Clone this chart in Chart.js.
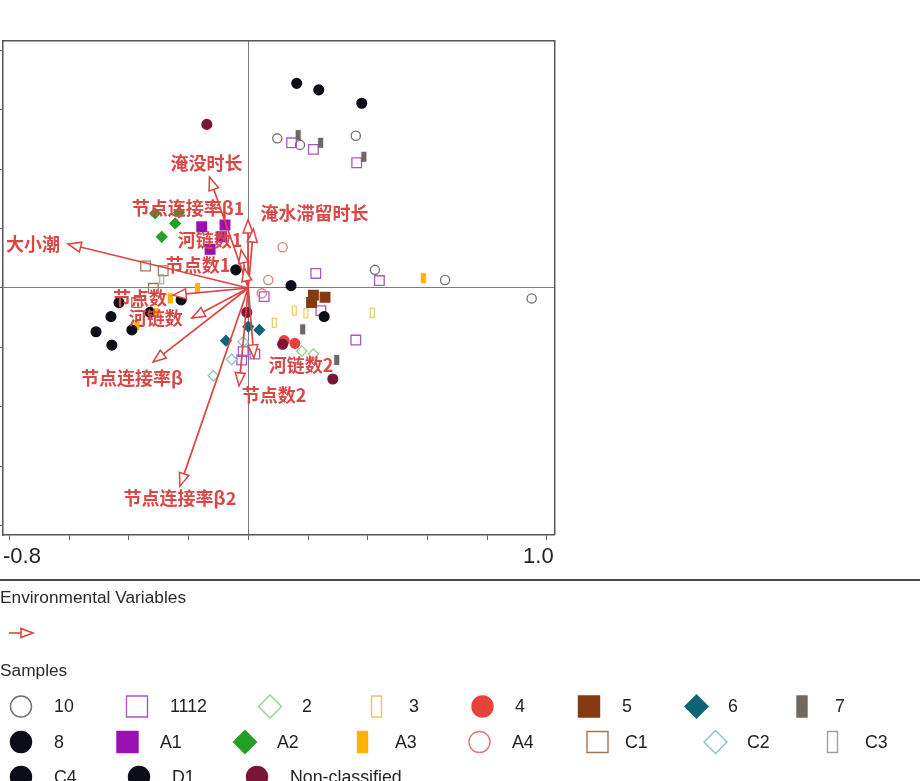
<!DOCTYPE html>
<html>
<head>
<meta charset="utf-8">
<script src="https://cdn.jsdelivr.net/npm/chart.js@4.4.1/dist/chart.umd.min.js"></script>
<style>
  html, body { margin: 0; padding: 0; background: #fff; overflow: hidden; }
  #wrap { width: 920px; height: 781px; position: relative; }
</style>
</head>
<body>
<div id="wrap"><canvas id="c" width="920" height="781"></canvas></div>
<script>
// ---- axis ticks ----
const xTickValues = [-0.8, -0.6, -0.4, -0.2, 0, 0.2, 0.4, 0.6, 0.8, 1.0];
const yTickValues = [-0.8, -0.6, -0.4, -0.2, 0, 0.2, 0.4, 0.6, 0.8];
const xEndLabels = ['-0.8', '1.0'];

// ---- environmental variables (biplot arrows: axis 1, axis 2 scores) ----
const envNames = ['大小潮', '淹没时长', '节点连接率β1', '淹水滞留时长', '河链数1', '节点数1',
                  '节点数', '河链数', '节点连接率β', '节点连接率β2', '节点数2', '河链数2'];
const envAxis1 = [-0.604, -0.130, -0.001, 0.017, -0.024, -0.014, -0.252, -0.189, -0.319, -0.229, -0.031, 0.019];
const envAxis2 = [0.148, 0.373, 0.229, 0.198, 0.128, 0.067, -0.024, -0.101, -0.249, -0.666, -0.329, -0.235];

// ---- samples, one array per class: [axis1, axis2] ----
const s10   = [[0.097, 0.503], [0.173, 0.481], [0.360, 0.512], [0.424, 0.061], [0.659, 0.027], [0.949, -0.035]];
const s1112 = [[0.145, 0.488], [0.218, 0.466], [0.363, 0.421], [0.226, 0.049], [0.439, 0.025], [0.243, -0.076],
               [0.360, -0.175], [0.053, -0.029], [-0.017, -0.214], [0.022, -0.222], [-0.022, -0.242]];
const s2    = [[0.179, -0.212], [0.218, -0.222]];
const s3    = [[0.154, -0.076], [0.193, -0.085], [0.087, -0.117], [0.415, -0.083]];
const s4    = [[0.120, -0.177], [0.156, -0.186]];
const s5    = [[0.218, -0.024], [0.257, -0.031], [0.212, -0.049]];
const s6    = [[0.000, -0.130], [0.037, -0.141], [-0.075, -0.177]];
const s7    = [[0.167, 0.514], [0.242, 0.488], [0.387, 0.441], [0.182, -0.139], [0.296, -0.242]];
const s8    = [[0.162, 0.688], [0.236, 0.666], [0.380, 0.621], [-0.042, 0.061], [0.143, 0.008], [0.254, -0.096],
               [-0.225, -0.040], [-0.329, -0.082], [-0.433, -0.049]];
const sA1   = [[-0.156, 0.206], [-0.078, 0.212], [-0.089, 0.172], [-0.128, 0.130]];
const sA2   = [[-0.312, 0.251], [-0.232, 0.254], [-0.245, 0.217], [-0.290, 0.172]];
const sA3   = [[-0.170, 0.000], [-0.261, -0.035], [-0.309, -0.084], [-0.373, -0.124], [0.586, 0.033]];
const sA4   = [[0.115, 0.137], [0.067, 0.027], [0.045, -0.018]];
const sC1   = [[-0.344, 0.074], [-0.285, 0.058], [-0.318, -0.001], [-0.374, -0.049]];
const sC2   = [[-0.017, -0.181], [-0.056, -0.240], [-0.117, -0.295]];
const sC3   = [[-0.290, 0.029]];
const sC4   = [[-0.510, -0.147], [-0.457, -0.192]];
const sD1   = [[-0.460, -0.096], [-0.390, -0.141]];
const sNC   = [[-0.139, 0.550], [-0.005, -0.082], [0.115, -0.189], [0.283, -0.306]];

const classNames = ['10', '1112', '2', '3', '4', '5', '6', '7', '8', 'A1', 'A2', 'A3', 'A4', 'C1', 'C2', 'C3', 'C4', 'D1', 'Non-classified'];
const classData  = [s10, s1112, s2, s3, s4, s5, s6, s7, s8, sA1, sA2, sA3, sA4, sC1, sC2, sC3, sC4, sD1, sNC];

// ---- styling ----
const ARROW_RED = '#dc4442';
const LABEL_RED = '#d94846';
// shape, fill, stroke
const classStyle = {
  '10':   ['circle',  null,      '#6e6e6e'],
  '1112': ['square',  null,      '#a957c4'],
  '2':    ['diamond', null,      '#92cf92'],
  '3':    ['narrow',  null,      '#e6c65a'],
  '4':    ['circle',  '#e8423c', '#e8423c'],
  '5':    ['square',  '#873a12', '#873a12'],
  '6':    ['diamond', '#0c6576', '#0c6576'],
  '7':    ['narrow',  '#716960', '#716960'],
  '8':    ['circle',  '#0b0e16', '#0b0e16'],
  'A1':   ['square',  '#9a10b2', '#9a10b2'],
  'A2':   ['diamond', '#23a023', '#23a023'],
  'A3':   ['narrow',  '#ffb300', '#ffb300'],
  'A4':   ['circle',  null,      '#e07a7a'],
  'C1':   ['square',  null,      '#a07656'],
  'C2':   ['diamond', null,      '#8cc0c6'],
  'C3':   ['narrow',  null,      '#9e9e9e'],
  'C4':   ['circle',  '#0b0e16', '#0b0e16'],
  'D1':   ['circle',  '#0b0e16', '#0b0e16'],
  'Non-classified': ['circle', '#7b1535', '#7b1535']
};
// label offsets from each arrow tip, in pixels
const envLabelOffset = [[-35, 0], [-3, -14], [-60, -12], [61, -16], [-31, -10], [-46, -3],
                        [-33, 3], [-36, 0], [-21, 16], [0, 12], [35, 9], [47, 7]];

// plot frame on the page
const FRAME = { left: 3, right: 554.7, top: 40.7, bottom: 535 };

// legend layout
const legendRows = [
  ['10', '1112', '2', '3', '4', '5', '6', '7'],
  ['8', 'A1', 'A2', 'A3', 'A4', 'C1', 'C2', 'C3'],
  ['C4', 'D1', 'Non-classified']
];
const legendRowY = [706.5, 742, 777];
const legendSymX = [
  [21, 137, 270, 376.5, 482.5, 589, 696.5, 802],
  [21, 127.5, 245, 362.5, 479.5, 597.5, 715.5, 832.5],
  [21, 139, 257]
];
const legendTextX = [
  [54, 170, 302, 409, 515, 622, 728, 835],
  [54, 160, 277, 395, 512, 625, 747, 865],
  [54, 172, 290]
];

function narrowImg(fill, stroke, w, h) {
  const c = document.createElement('canvas');
  c.width = w + 2; c.height = h + 2;
  const g = c.getContext('2d');
  if (fill) { g.fillStyle = fill; g.fillRect(1, 1, w, h); }
  g.strokeStyle = stroke; g.lineWidth = 1.2;
  g.strokeRect(1.5, 1.5, w - 1, h - 1);
  return c;
}

function datasetFor(name, pts, idx) {
  const [shape, fill, stroke] = classStyle[name];
  const ds = {
    label: name,
    data: pts.map(p => ({ x: p[0], y: p[1] })),
    backgroundColor: fill || 'rgba(0,0,0,0)',
    borderColor: stroke,
    borderWidth: 1.3,
    showLine: false,
    order: 100 - idx
  };
  if (shape === 'circle') { ds.pointStyle = 'circle'; ds.pointRadius = fill ? 4.9 : 4.6; }
  else if (shape === 'square') { ds.pointStyle = 'rect'; ds.pointRadius = 6.8; }
  else if (shape === 'diamond') { ds.pointStyle = 'rectRot'; ds.pointRadius = 5.2; }
  else { ds.pointStyle = narrowImg(fill, stroke, 5, 10); ds.pointRadius = 4; }
  return ds;
}

const datasets = [];
envNames.forEach((n, i) => {
  datasets.push({
    label: n,
    data: [{ x: 0, y: 0 }, { x: envAxis1[i], y: envAxis2[i] }],
    showLine: true,
    borderColor: ARROW_RED,
    borderWidth: 1.7,
    pointRadius: 0,
    order: 0
  });
});
classNames.forEach((n, i) => datasets.push(datasetFor(n, classData[i], i)));

// draws a legend symbol
function drawSym(ctx, shape, fill, stroke, x, y, s) {
  ctx.save();
  ctx.lineWidth = 1.4;
  ctx.strokeStyle = stroke;
  ctx.fillStyle = fill || '#fff';
  ctx.beginPath();
  if (shape === 'circle') ctx.arc(x, y, s / 2, 0, Math.PI * 2);
  else if (shape === 'square') ctx.rect(x - s / 2, y - s / 2, s, s);
  else if (shape === 'diamond') {
    const r = s / 2 + 1;
    ctx.moveTo(x, y - r); ctx.lineTo(x + r, y); ctx.lineTo(x, y + r); ctx.lineTo(x - r, y); ctx.closePath();
  } else ctx.rect(x - 5, y - s / 2, 10, s);
  if (fill) ctx.fill();
  ctx.stroke();
  ctx.restore();
}

function drawHead(ctx, x0, y0, x1, y1, L, W) {
  const a = Math.atan2(y1 - y0, x1 - x0);
  const bx = x1 - L * Math.cos(a), by = y1 - L * Math.sin(a);
  const px = -Math.sin(a) * W, py = Math.cos(a) * W;
  ctx.beginPath();
  ctx.moveTo(x1, y1);
  ctx.lineTo(bx + px, by + py);
  ctx.lineTo(bx - px, by - py);
  ctx.closePath();
  ctx.fillStyle = '#fff';
  ctx.fill();
  ctx.stroke();
}

const biplotDecor = {
  id: 'biplotDecor',
  afterDatasetsDraw(chart) {
    const { ctx, chartArea: ca, scales: { x, y } } = chart;
    // top and right edges of the frame
    ctx.save();
    ctx.strokeStyle = '#555';
    ctx.lineWidth = 1.5;
    ctx.beginPath();
    ctx.moveTo(ca.left, ca.top); ctx.lineTo(ca.right, ca.top); ctx.lineTo(ca.right, ca.bottom);
    ctx.stroke();
    // arrow heads and variable names
    const x0 = x.getPixelForValue(0), y0 = y.getPixelForValue(0);
    ctx.strokeStyle = ARROW_RED;
    ctx.lineWidth = 1.5;
    ctx.lineJoin = 'miter';
    envNames.forEach((n, i) => {
      const x1 = x.getPixelForValue(envAxis1[i]), y1 = y.getPixelForValue(envAxis2[i]);
      drawHead(ctx, x0, y0, x1, y1, 13, 5);
    });
    ctx.font = 'bold 18px "Noto Sans CJK SC", sans-serif';
    ctx.fillStyle = LABEL_RED;
    ctx.textAlign = 'center';
    ctx.textBaseline = 'middle';
    envNames.forEach((n, i) => {
      const x1 = x.getPixelForValue(envAxis1[i]), y1 = y.getPixelForValue(envAxis2[i]);
      ctx.fillText(n, x1 + envLabelOffset[i][0], y1 + envLabelOffset[i][1]);
    });
    // end labels of the first axis
    ctx.font = '22px "Liberation Sans", Arial, sans-serif';
    ctx.fillStyle = '#222';
    ctx.textAlign = 'left';
    ctx.fillText(xEndLabels[0], ca.left, ca.bottom + 22);
    ctx.textAlign = 'right';
    ctx.fillText(xEndLabels[1], ca.right - 1, ca.bottom + 22);
    ctx.restore();
  },
  afterDraw(chart) {
    const ctx = chart.ctx;
    ctx.save();
    ctx.strokeStyle = '#4a4a4a';
    ctx.lineWidth = 2;
    ctx.beginPath(); ctx.moveTo(0, 580); ctx.lineTo(920, 580); ctx.stroke();
    ctx.fillStyle = '#2a2a2a';
    ctx.font = '17.3px "Liberation Sans", Arial, sans-serif';
    ctx.textAlign = 'left';
    ctx.textBaseline = 'middle';
    ctx.fillText('Environmental Variables', 0, 598.5);
    ctx.fillText('Samples', 0, 671.5);
    // arrow key
    ctx.strokeStyle = ARROW_RED;
    ctx.lineWidth = 1.6;
    ctx.beginPath(); ctx.moveTo(9, 633); ctx.lineTo(22, 633); ctx.stroke();
    drawHead(ctx, 9, 633, 33, 633, 12, 4.5);
    // sample classes
    ctx.font = '17.8px "Liberation Sans", Arial, sans-serif';
    legendRows.forEach((row, r) => {
      row.forEach((name, k) => {
        const [shape, fill, stroke] = classStyle[name];
        drawSym(ctx, shape, fill, stroke, legendSymX[r][k], legendRowY[r], 21);
        ctx.fillStyle = '#222';
        ctx.fillText(name, legendTextX[r][k], legendRowY[r] + 1);
      });
    });
    ctx.restore();
  }
};

const gridColor = c => (c.tick && Math.abs(c.tick.value) < 1e-9) ? '#7c7c7c' : 'rgba(0,0,0,0)';

const chart = new Chart(document.getElementById('c'), {
  type: 'scatter',
  data: { datasets },
  options: {
    responsive: false,
    devicePixelRatio: 1,
    animation: false,
    events: [],
    layout: {
      autoPadding: false,
      padding: { left: 0, top: FRAME.top, right: 920 - FRAME.right, bottom: 781 - FRAME.bottom - 40 }
    },
    plugins: { legend: { display: false }, tooltip: { enabled: false }, title: { display: false } },
    scales: {
      x: {
        type: 'linear',
        min: -0.8215, max: 1.0261,
        afterBuildTicks: s => { s.ticks = xTickValues.map(v => ({ value: v })); },
        afterFit: s => { s.height = 40; },
        ticks: { display: false },
        grid: { drawOnChartArea: true, color: gridColor, tickColor: '#666', tickLength: 5, lineWidth: 1 },
        border: { display: true, color: '#555', width: 1.5 }
      },
      y: {
        type: 'linear',
        min: -0.8303, max: 0.8313,
        afterBuildTicks: s => { s.ticks = yTickValues.map(v => ({ value: v })); },
        afterFit: s => { s.width = 3; },
        ticks: { display: false },
        grid: { drawOnChartArea: true, color: gridColor, tickColor: '#666', tickLength: 3, lineWidth: 1 },
        border: { display: true, color: '#555', width: 1.5 }
      }
    }
  },
  plugins: [biplotDecor]
});

// nudge the layout padding so the plot area sits exactly on the frame
const pad = chart.options.layout.padding;
const area = chart.chartArea;
pad.left += FRAME.left - area.left;
pad.right += area.right - FRAME.right;
pad.top += FRAME.top - area.top;
pad.bottom += area.bottom - FRAME.bottom;
chart.update();
</script>
</body>
</html>
